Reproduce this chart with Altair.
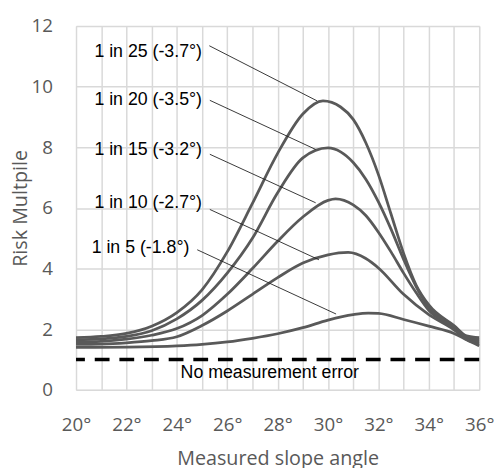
import altair as alt
import pandas as pd

# ---- data ----
series_names = ["1 in 25", "1 in 20", "1 in 15", "1 in 10", "1 in 5"]

c25_x = [20, 21, 22, 23, 24, 25, 26, 27, 28, 29, 29.8, 30.5, 31, 31.5, 32, 32.5, 33, 33.5, 34, 35, 35.5, 36]
c25_y = [1.72, 1.76, 1.86, 2.1, 2.55, 3.3, 4.55, 6.15, 7.8, 9.1, 9.53, 9.33, 8.92, 8.15, 7.1, 5.8, 4.5, 3.45, 2.8, 2.12, 1.78, 1.72]

c20_x = [20, 21, 22, 23, 24, 25, 26, 27, 28, 29, 30, 30.5, 31, 31.5, 32, 32.5, 33, 33.5, 34, 35, 35.5, 36]
c20_y = [1.65, 1.68, 1.76, 1.95, 2.34, 2.95, 3.85, 5.0, 6.5, 7.65, 7.98, 7.85, 7.5, 6.95, 6.2, 5.3, 4.3, 3.4, 2.72, 2.08, 1.74, 1.65]

c15_x = [20, 21, 22, 23, 24, 25, 26, 27, 28, 29, 30, 30.3, 31, 31.5, 32, 32.5, 33, 33.5, 34, 35, 35.5, 36]
c15_y = [1.58, 1.6, 1.67, 1.8, 2.02, 2.45, 3.15, 4.0, 4.9, 5.7, 6.25, 6.3, 6.1, 5.75, 5.2, 4.55, 3.85, 3.2, 2.62, 2.04, 1.7, 1.58]

c10_x = [20, 21, 22, 23, 24, 25, 26, 27, 28, 29, 30, 30.8, 31.5, 32, 33, 34, 35, 35.5, 36]
c10_y = [1.5, 1.51, 1.55, 1.62, 1.75, 2.12, 2.6, 3.15, 3.7, 4.18, 4.45, 4.53, 4.33, 4.02, 3.15, 2.48, 1.98, 1.66, 1.52]

c5_x = [20, 22, 24, 25, 26, 27, 28, 29, 30, 31, 31.6, 32, 33, 34, 35, 35.5, 36]
c5_y = [1.4, 1.41, 1.45, 1.5, 1.58, 1.7, 1.85, 2.05, 2.3, 2.48, 2.53, 2.52, 2.32, 2.1, 1.86, 1.65, 1.45]

label_text = ["1 in 25 (-3.7°)", "1 in 20 (-3.5°)", "1 in 15 (-3.2°)", "1 in 10 (-2.7°)", "1 in 5 (-1.8°)"]
label_x = [25.0, 25.0, 25.0, 25.0, 24.5]
label_y = [11.15, 9.55, 7.92, 6.16, 4.67]

leader_x1 = [25.29, 25.31, 25.31, 25.31, 24.81]
leader_y1 = [11.35, 9.55, 7.77, 5.95, 4.62]
leader_x2 = [29.57, 29.51, 29.51, 29.64, 30.32]
leader_y2 = [9.53, 7.93, 6.17, 4.29, 2.5]

baseline_value = [1.0]
baseline_text = ["No measurement error"]
baseline_text_x = [24.15]
baseline_text_y = [0.55]

x_ticks = list(range(20, 37))
y_ticks = [0, 2, 4, 6, 8, 10, 12]

# ---- tables ----
rows = []
for name, xs, ys in zip(series_names,
                        [c25_x, c20_x, c15_x, c10_x, c5_x],
                        [c25_y, c20_y, c15_y, c10_y, c5_y]):
    for xv, yv in zip(xs, ys):
        rows.append({"series": name, "angle": xv, "risk": yv})
curves = pd.DataFrame(rows)

labels = pd.DataFrame({"text": label_text, "angle": label_x, "risk": label_y})
leaders = pd.DataFrame({"angle": leader_x1, "risk": leader_y1, "x2": leader_x2, "y2": leader_y2})
base = pd.DataFrame({"risk": baseline_value})
base_lab = pd.DataFrame({"text": baseline_text, "angle": baseline_text_x, "risk": baseline_text_y})

FONT = "Open Sans"
GRAY = "#595959"

x_scale = alt.Scale(domain=[20, 36], nice=False, zero=False)
y_scale = alt.Scale(domain=[0, 12], nice=False)

x_axis = alt.Axis(values=x_ticks,
                  labelExpr="datum.value % 2 == 0 ? datum.value + '°' : ''",
                  title="Measured slope angle", grid=True, gridColor="#d9d9d9", gridWidth=1.5,
                  domain=False, ticks=False, labelFont=FONT, labelFontSize=19, labelColor=GRAY,
                  labelPadding=26, labelFlush=False, labelOverlap=False,
                  titleFont=FONT, titleFontSize=20, titleFontWeight="normal", titleColor=GRAY,
                  titlePadding=15)
y_axis = alt.Axis(values=y_ticks, title="Risk Multpile", grid=True, gridColor="#d9d9d9", gridWidth=1.5,
                  domain=False, ticks=False, labelFont=FONT, labelFontSize=19, labelColor=GRAY,
                  labelPadding=24, labelFlush=False, labelOverlap=False,
                  titleFont=FONT, titleFontSize=20, titleFontWeight="normal", titleColor=GRAY,
                  titlePadding=0)

X = alt.X("angle:Q", scale=x_scale, axis=x_axis)
Y = alt.Y("risk:Q", scale=y_scale, axis=y_axis)

lines = alt.Chart(curves).mark_line(interpolate="monotone", color="#595959", strokeWidth=2.8).encode(
    x=X, y=Y, detail="series:N",
)

dash = alt.Chart(base).mark_rule(color="black", strokeWidth=3.5, strokeDash=[15, 10]).encode(
    y=Y,
)

leader = alt.Chart(leaders).mark_rule(color="#222222", strokeWidth=0.9).encode(
    x=X, y=Y, x2="x2:Q", y2="y2:Q",
)

text = alt.Chart(labels).mark_text(align="right", baseline="middle", font="Liberation Sans",
                                   fontSize=18, color="black").encode(
    x=X, y=Y, text="text:N",
)

base_text = alt.Chart(base_lab).mark_text(align="left", baseline="middle", font="Liberation Sans",
                                          fontSize=18, color="black").encode(
    x=X, y=Y, text="text:N",
)

chart = alt.layer(lines, leader, dash, text, base_text).properties(
    width=409, height=369,
    autosize=alt.AutoSizeParams(type="none"),
    padding={"left": 69, "top": 15, "right": 15, "bottom": 76},
).configure_view(stroke="#8c8c8c", strokeWidth=1.5).configure(background="white")

chart.save("out.html", embed_options={"renderer": "svg", "actions": False})
